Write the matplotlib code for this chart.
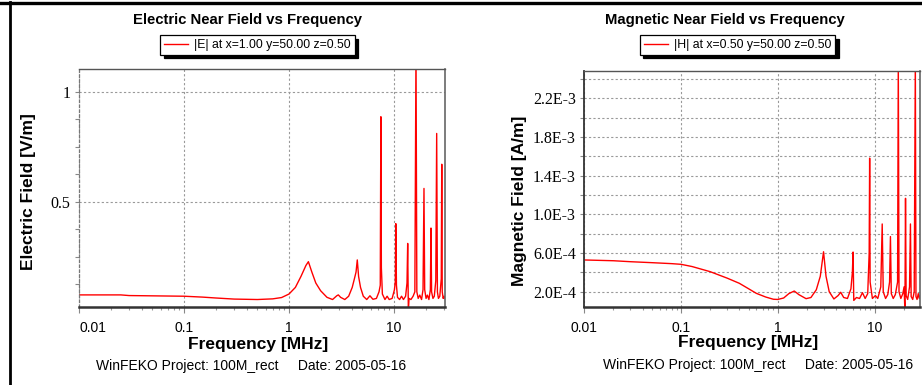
import matplotlib
matplotlib.use("Agg")
import matplotlib.pyplot as plt
from matplotlib.lines import Line2D
import numpy as np

# |E| near field (MHz, V/m)
e_freq = [0.01, 0.025, 0.03, 0.1, 0.15, 0.2, 0.3, 0.5, 0.7, 0.85, 1.0, 1.15, 1.3, 1.45,
          1.53, 1.65, 1.8, 2.0, 2.3, 2.6, 2.85, 2.95, 3.1, 3.4, 3.7, 4.0, 4.2, 4.35,
          4.47, 4.6, 4.8, 5.1, 5.5, 5.9, 6.3, 6.8, 7.2, 7.4, 7.45, 7.5, 7.58, 7.75,
          8.2, 8.6, 9.0, 9.6, 10.1, 10.3, 10.4, 10.55, 10.8, 11.3, 11.8, 12.3, 12.9,
          13.3, 13.5, 13.7, 13.9, 14.5, 15.2, 15.8, 16.2, 16.5, 17.0, 17.6, 18.3,
          18.9, 19.3, 19.6, 20.2, 20.8, 21.5, 22.2, 22.5, 22.8, 23.5, 24.2, 25.0,
          25.5, 25.9, 26.5, 27.3, 28.2, 28.5, 28.8, 29.4, 30.0, 30.6]
e_val = [0.076, 0.076, 0.073, 0.070, 0.066, 0.062, 0.057, 0.055, 0.058, 0.064, 0.080,
         0.110, 0.160, 0.210, 0.227, 0.180, 0.130, 0.095, 0.065, 0.055, 0.072, 0.076,
         0.065, 0.055, 0.070, 0.110, 0.150, 0.180, 0.235, 0.160, 0.110, 0.070, 0.055,
         0.072, 0.056, 0.060, 0.090, 0.120, 0.520, 0.886, 0.200, 0.080, 0.055, 0.070,
         0.055, 0.060, 0.100, 0.140, 0.400, 0.120, 0.065, 0.055, 0.070, 0.055, 0.070,
         0.130, 0.310, 0.000, 0.060, 0.055, 0.070, 0.090, 1.200, 0.090, 0.060, 0.075,
         0.055, 0.100, 0.560, 0.100, 0.060, 0.075, 0.055, 0.100, 0.380, 0.090, 0.060,
         0.070, 0.140, 0.810, 0.090, 0.060, 0.070, 0.150, 0.670, 0.090, 0.060, 0.070,
         0.060]

# |H| near field (MHz, 1e-4 A/m)
h_freq = [0.01, 0.02, 0.03, 0.05, 0.08, 0.1, 0.13, 0.2, 0.3, 0.4, 0.5, 0.6, 0.75, 0.9,
          1.0, 1.15, 1.3, 1.48, 1.65, 1.96, 2.2, 2.5, 2.75, 2.97, 3.15, 3.4, 3.8, 4.2,
          4.47, 4.8, 5.25, 5.7, 5.9, 6.0, 6.1, 6.5, 7.0, 7.5, 8.0, 8.5, 8.8, 8.9, 9.0,
          9.5, 10.2, 10.8, 11.6, 12.0, 12.3, 13.0, 13.7, 14.3, 14.6, 14.9, 15.6, 16.4,
          17.3, 17.6, 17.9, 18.7, 19.6, 20.2, 20.6, 20.9, 21.2, 22.0, 23.0, 23.5, 23.9,
          24.8, 25.7, 26.4, 26.8, 27.5, 28.3, 29.0, 29.6]
h_val = [5.28, 5.2, 5.1, 5.0, 4.9, 4.83, 4.6, 4.07, 3.4, 2.87, 2.3, 1.83, 1.45, 1.22,
         1.2, 1.35, 1.8, 2.07, 1.7, 1.28, 1.4, 2.2, 3.6, 6.13, 3.6, 2.0, 1.25, 1.6,
         1.94, 1.4, 1.3, 2.3, 4.0, 6.1, 1.1, 1.4, 1.3, 1.9, 1.3, 1.8, 6.0, 15.8, 3.0,
         1.3, 1.6, 1.3, 2.5, 9.0, 2.0, 1.3, 1.7, 3.0, 7.7, 1.8, 1.3, 1.7, 3.0, 26.0,
         2.0, 1.3, 1.8, 2.5, 0.0, 11.65, 1.6, 1.2, 2.5, 9.0, 1.5, 1.2, 2.0, 26.0, 1.5,
         1.2, 1.8, 1.3, 1.6]

x_ticks = [0.01, 0.1, 1, 10]
x_labels = ["0.01", "0.1", "1", "10"]
e_yticks = [0.5, 1.0]
e_ylabels = ["0.5", "1"]
h_grid = [2e-4 * k for k in range(1, 13)]
h_yticks = [2e-4, 6e-4, 1.0e-3, 1.4e-3, 1.8e-3, 2.2e-3]
h_ylabels = ["2.0E-4", "6.0E-4", "1.0E-3", "1.4E-3", "1.8E-3", "2.2E-3"]

SANS = "Liberation Sans"
SERIF = "Liberation Serif"

fig = plt.figure(figsize=(9.22, 3.85), dpi=100)
fig.patch.set_facecolor("white")


def style_axes(ax, left_dashed=False):
    ax.set_xscale("log")
    ax.set_xticks(x_ticks, x_labels)
    for lab in ax.get_xticklabels():
        lab.set_fontfamily(SANS)
        lab.set_fontsize(10)
    ax.tick_params(axis="x", which="major", direction="out", length=4, width=0.8,
                   color="#888888", pad=6)
    ax.tick_params(axis="x", which="minor", direction="out", length=2.5, width=0.8,
                   color="#999999")
    ax.tick_params(axis="y", which="both", direction="out", length=3, width=0.8,
                   color="#888888", pad=3)
    ax.grid(True, which="major", color="#999999", linestyle=(0, (2, 2)), linewidth=0.8)
    ax.spines["bottom"].set_color("#333333")
    ax.spines["bottom"].set_linewidth(1.8)
    ax.spines["top"].set_color("#555555")
    ax.spines["top"].set_linewidth(1.0)
    ax.spines["right"].set_color("#666666")
    ax.spines["right"].set_linewidth(1.2)
    if left_dashed:
        ax.spines["left"].set_color("#777777")
        ax.spines["left"].set_linestyle((0, (2, 2)))
        ax.spines["left"].set_linewidth(0.9)
    else:
        ax.spines["left"].set_color("#333333")
        ax.spines["left"].set_linewidth(1.3)


# ---- Electric field ----
ax1 = fig.add_axes([79 / 922, 1 - 307 / 385, 366 / 922, 238 / 385])
ax1.plot(e_freq, e_val, color="#ff0000", linewidth=1.0,
         label="|E| at x=1.00 y=50.00 z=0.50")
ax1.set_xlim(0.01, 30.6)
ax1.set_ylim(0.021, 1.103)
style_axes(ax1, left_dashed=True)
ax1.get_xticklabels()[0].set_horizontalalignment("left")
ax1.set_yticks(e_yticks, e_ylabels)
ax1.set_yticks(np.arange(0.125, 1.1, 0.125), minor=True)
for lab in ax1.get_yticklabels():
    lab.set_fontfamily(SERIF)
    lab.set_fontsize(11.5)

# ---- Magnetic field ----
ax2 = fig.add_axes([584.3 / 922, 1 - 306.7 / 385, 335.7 / 922, 236 / 385])
ax2.plot(h_freq, np.array(h_val) * 1e-4, color="#ff0000", linewidth=1.0,
         label="|H| at x=0.50 y=50.00 z=0.50")
ax2.set_xlim(0.01, 29.5)
ax2.set_ylim(0.045e-3, 2.484e-3)
style_axes(ax2)
ax2.set_yticks(h_yticks, h_ylabels)
ax2.set_yticks(h_grid, minor=True)
ax2.grid(True, which="minor", axis="y", color="#999999", linestyle=(0, (2, 2)),
         linewidth=0.8)
for lab in ax2.get_yticklabels():
    lab.set_fontfamily(SERIF)
    lab.set_fontsize(11.5)

# legends with a hard black shadow
for ax, cx in [(ax1, 257.5 / 922), (ax2, 737.5 / 922)]:
    leg = ax.legend(loc="center", bbox_to_anchor=(cx, 1 - 45 / 385),
                    bbox_transform=fig.transFigure, fancybox=False,
                    edgecolor="black", framealpha=1, borderpad=0.3,
                    handlelength=2.0, handletextpad=0.5,
                    prop={"family": SANS, "size": 8.8},
                    shadow={"color": "black", "alpha": 1, "ox": 2.5, "oy": -2.5})
    leg.get_frame().set_linewidth(0.9)

# titles, axis labels, footers
fig.text(247 / 922, 1 - 20 / 385, "Electric Near Field vs Frequency", ha="center",
         va="center", family=SANS, weight="bold", fontsize=10.7)
fig.text(725 / 922, 1 - 20 / 385, "Magnetic Near Field vs Frequency", ha="center",
         va="center", family=SANS, weight="bold", fontsize=10.7)
fig.text(28.5 / 922, 1 - 191.5 / 385, "Electric Field [V/m]", rotation=90,
         ha="center", va="center", family=SANS, weight="bold", fontsize=12.5)
fig.text(519 / 922, 1 - 201 / 385, "Magnetic Field [A/m]", rotation=90,
         ha="center", va="center", family=SANS, weight="bold", fontsize=12.5)
fig.text(258 / 922, 1 - 345 / 385, "Frequency [MHz]", ha="center", va="center",
         family=SANS, weight="bold", fontsize=12.5)
fig.text(748 / 922, 1 - 342.5 / 385, "Frequency [MHz]", ha="center", va="center",
         family=SANS, weight="bold", fontsize=12.5)
footer = "WinFEKO Project: 100M_rect     Date: 2005-05-16"
fig.text(251.5 / 922, 1 - 366 / 385, footer, ha="center", va="center",
         family=SANS, fontsize=10)
fig.text(757.7 / 922, 1 - 365.5 / 385, footer, ha="center", va="center",
         family=SANS, fontsize=10)

# window frame lines (top and left)
fig.add_artist(Line2D([0, 1], [1 - 3 / 385, 1 - 3 / 385], color="black",
                      linewidth=2.4, transform=fig.transFigure))
fig.add_artist(Line2D([10 / 922, 10 / 922], [0, 1 - 2 / 385], color="black",
                      linewidth=2.0, transform=fig.transFigure))

fig.savefig("out.png", dpi=100, facecolor="white")
